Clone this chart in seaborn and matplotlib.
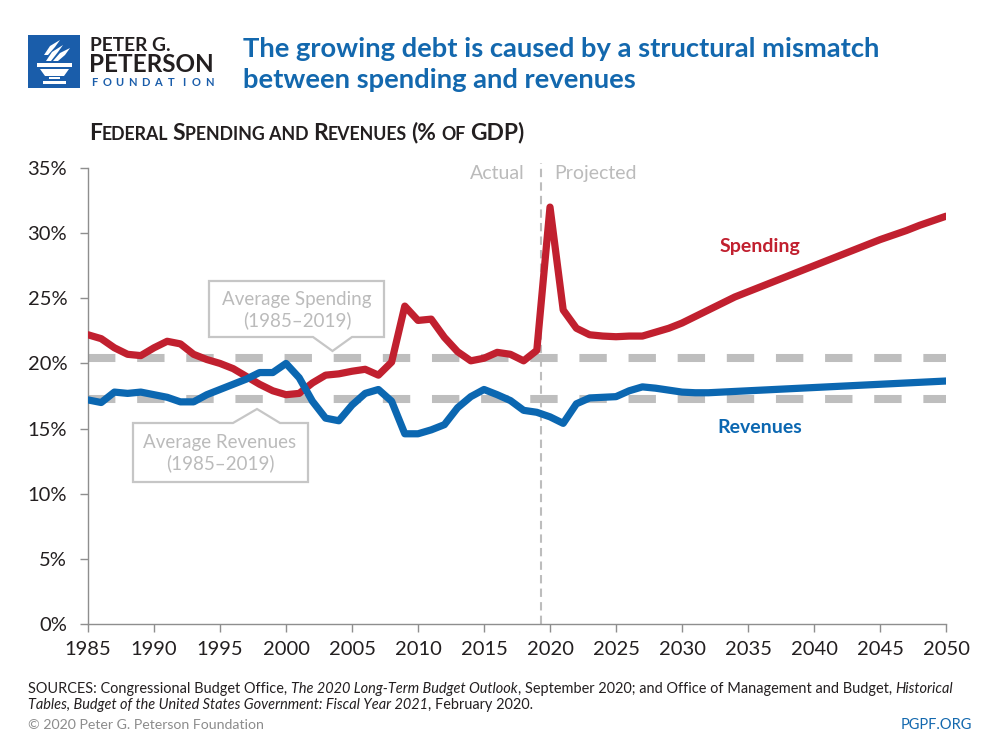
import numpy as np
import pandas as pd
import matplotlib
matplotlib.use("Agg")
import matplotlib.pyplot as plt
import matplotlib.font_manager as fm
from matplotlib.patches import Polygon, Rectangle
from matplotlib.transforms import IdentityTransform
import seaborn as sns

# ---------------- data ----------------
years = list(range(1985, 2051))
spending = [22.2, 21.9, 21.2, 20.7, 20.6, 21.2, 21.7, 21.5, 20.7, 20.3,
            20.0, 19.6, 19.0, 18.4, 17.9, 17.6, 17.7, 18.5, 19.1, 19.2,
            19.4, 19.55, 19.1, 20.1, 24.4, 23.3, 23.4, 22.0, 20.9, 20.2,
            20.4, 20.85, 20.7, 20.2, 21.0, 32.0, 24.1, 22.7, 22.2, 22.1,
            22.05, 22.1, 22.1, 22.4, 22.7, 23.1, 23.6, 24.1, 24.6, 25.1,
            25.5, 25.9, 26.3, 26.7, 27.1, 27.5, 27.9, 28.3, 28.7, 29.1,
            29.5, 29.85, 30.2, 30.6, 30.95, 31.3]
revenues = [17.2, 17.0, 17.8, 17.7, 17.8, 17.6, 17.4, 17.05, 17.05, 17.6,
            18.0, 18.4, 18.8, 19.3, 19.3, 20.0, 18.9, 17.1, 15.8, 15.6,
            16.8, 17.7, 18.0, 17.1, 14.6, 14.6, 14.9, 15.3, 16.6, 17.45,
            18.0, 17.6, 17.15, 16.4, 16.25, 15.9, 15.4, 16.9, 17.35, 17.4,
            17.45, 17.9, 18.2, 18.1, 17.95, 17.8, 17.75, 17.75, 17.8, 17.85,
            17.9, 17.95, 18.0, 18.05, 18.1, 18.15, 18.2, 18.25, 18.3, 18.35,
            18.4, 18.45, 18.5, 18.55, 18.6, 18.65]
avg_spending = 20.4
avg_revenues = 17.3
split_year = 2019.3
xticks = list(range(1985, 2051, 5))
yticks = [0, 5, 10, 15, 20, 25, 30, 35]

df = pd.DataFrame({"year": years, "Spending": spending, "Revenues": revenues})

# ---------------- style ----------------
RED = "#C1202F"
BLUE = "#0B67B1"
TITLE_BLUE = "#1368AE"
GRAY_DASH = "#BEBEBE"
BOX_GRAY = "#C6C6C6"
TXT_GRAY = "#BBBBBB"
DARK = "#231F20"

sns.set_style("ticks")
installed = {f.name for f in fm.fontManager.ttflist}
MAIN = "Lato" if "Lato" in installed else "DejaVu Sans"
NARROW = "Liberation Sans Narrow" if "Liberation Sans Narrow" in installed else MAIN
plt.rcParams["font.family"] = [MAIN, "DejaVu Sans"]

W, H = 1000, 750
fig = plt.figure(figsize=(10, 7.5), dpi=100)
fig.patch.set_facecolor("white")

# axes placement (pixels): x 88..946, y 168..624
ax = fig.add_axes([88 / W, 1 - 624 / H, (946 - 88) / W, (624 - 168) / H])
ax.set_xlim(1985, 2050)
ax.set_ylim(0, 35)

# average dashed lines (under data)
ax.plot([1985, 2050], [avg_spending] * 2, color=GRAY_DASH, lw=5.8,
        linestyle=(0, (3.4, 2.7)), solid_capstyle="butt", zorder=1)
ax.plot([1985, 2050], [avg_revenues] * 2, color=GRAY_DASH, lw=5.8,
        linestyle=(0, (3.4, 2.7)), solid_capstyle="butt", zorder=1)

# actual / projected divider
ax.plot([split_year, split_year], [0, 35.4], color="#BDBDBD", lw=1.5,
        linestyle=(0, (4, 2.5)), clip_on=False, zorder=1)
ax.text(split_year - 1.2, 34.6, "Actual", ha="right", va="center",
        fontsize=14, color=TXT_GRAY)
ax.text(split_year + 1.0, 34.6, "Projected", ha="left", va="center",
        fontsize=14, color=TXT_GRAY)

sns.lineplot(data=df, x="year", y="Spending", color=RED, lw=5.2, ax=ax,
             zorder=3)
sns.lineplot(data=df, x="year", y="Revenues", color=BLUE, lw=5.2, ax=ax,
             zorder=3)
for ln in ax.lines[-2:]:
    ln.set_solid_joinstyle("round")
    ln.set_solid_capstyle("round")

ax.text(2035.9, 29.0, "Spending", color=RED, fontsize=14,
        fontweight="bold", ha="center", va="center")
ax.text(2035.9, 15.05, "Revenues", color=BLUE, fontsize=14,
        fontweight="bold", ha="center", va="center")

# callout boxes
def px2d(px, py):
    return 1985 + (px - 88) / (858 / 65), (624 - py) / (456 / 35)

L, T = px2d(209, 281)
R, B = px2d(384, 337)
p1, _ = px2d(313, 0)
p2, _ = px2d(352, 0)
tx, ty = px2d(332.5, 351)
box1 = Polygon([(L, T), (R, T), (R, B), (p2, B), (tx, ty), (p1, B), (L, B)],
               closed=True, fc="white", ec=BOX_GRAY, lw=1.6, zorder=4,
               clip_on=False)
ax.add_patch(box1)
cx, cy = px2d(297, 310)
ax.text(cx, cy, "Average Spending\n(1985\u20132019)", ha="center", va="center",
        fontsize=13.5, color=TXT_GRAY, linespacing=1.2, zorder=5)

L, T = px2d(133, 423)
R, B = px2d(308, 482)
p1, _ = px2d(233, 0)
p2, _ = px2d(280, 0)
tx, ty = px2d(257, 409)
box2 = Polygon([(L, T), (p1, T), (tx, ty), (p2, T), (R, T), (R, B), (L, B)],
               closed=True, fc="white", ec=BOX_GRAY, lw=1.6, zorder=4,
               clip_on=False)
ax.add_patch(box2)
cx, cy = px2d(220, 453)
ax.text(cx, cy, "Average Revenues\n(1985\u20132019)", ha="center", va="center",
        fontsize=13.5, color=TXT_GRAY, linespacing=1.2, zorder=5)

# axes styling
ax.set_xticks(xticks)
ax.set_yticks(yticks)
ax.set_yticklabels([f"{v}%" for v in yticks])
ax.set_xlabel("")
ax.set_ylabel("")
for side in ["top", "right"]:
    ax.spines[side].set_visible(False)
for side in ["left", "bottom"]:
    ax.spines[side].set_color("#8E8E8E")
    ax.spines[side].set_linewidth(1.0)
ax.tick_params(axis="both", colors="#8E8E8E", length=6, width=1.0,
               labelsize=14.5, labelcolor=DARK)
ax.tick_params(axis="y", pad=9)
ax.tick_params(axis="x", pad=6)

# ---------------- header / footer ----------------
fig.canvas.draw()
renderer = fig.canvas.get_renderer()
ID = IdentityTransform()


def space_w(**kw):
    a = fig.text(0, 0, "a a", transform=ID, **kw)
    b = fig.text(0, 0, "aa", transform=ID, **kw)
    w = a.get_window_extent(renderer).width - b.get_window_extent(renderer).width
    a.remove()
    b.remove()
    return w


def draw_runs(x, y, parts):
    """parts: list of (text, kwargs); y = baseline in px from top."""
    for text, kw in parts:
        sw = space_w(**kw)
        lead = len(text) - len(text.lstrip(" "))
        trail = len(text) - len(text.rstrip(" "))
        x += lead * sw
        s = text.strip(" ")
        if s:
            t = fig.text(x, H - y, s, transform=ID, ha="left", va="baseline", **kw)
            x = t.get_window_extent(renderer).x1
        x += trail * sw
    return x


# title
fig.text(243, H - 57, "The growing debt is caused by a structural mismatch",
         transform=ID, fontsize=19.7, fontweight="bold", color=TITLE_BLUE,
         va="baseline", ha="left")
fig.text(243, H - 88.5, "between spending and revenues",
         transform=ID, fontsize=19.7, fontweight="bold", color=TITLE_BLUE,
         va="baseline", ha="left")

# small-caps subtitle
big = dict(fontsize=16.4, fontweight="bold", color=DARK)
small = dict(fontsize=12.8, fontweight="bold", color=DARK)
draw_runs(89, 139.5, [("F", big), ("EDERAL ", small), ("S", big),
                      ("PENDING AND ", small), ("R", big), ("EVENUES ", small),
                      ("(% ", big), ("OF ", small), ("GDP)", big)])

# logo
fig.add_artist(Rectangle((28, H - 88), 52, 53, transform=ID, fc="#1A5DAA",
                         ec="none"))
def P(pts):
    return [(x, H - y) for x, y in pts]
for pts in [
    [(37, 63), (72, 63), (72, 67), (37, 67)],
    [(40, 69), (69, 69), (64, 76), (45, 76)],
    [(49, 77), (60, 77), (60, 79), (49, 79)],
    [(43, 81), (66, 81), (66, 84), (43, 84)],
    [(46, 61), (52, 52), (63, 45), (58, 52), (51, 61)],
    [(53, 61), (60, 53), (70, 48), (65, 55), (58, 61)],
    [(44, 55), (50, 46), (60, 40), (55, 47), (48, 55)],
]:
    fig.add_artist(Polygon(P(pts), closed=True, transform=ID, fc="white",
                           ec="none"))
fig.text(90, H - 51, "PETER G.", transform=ID, fontsize=13.8,
         fontweight="bold", color=DARK, va="baseline", ha="left")
fig.text(89, H - 72, "PETERSON", transform=ID, fontsize=17.5,
         fontweight="bold", color=DARK, va="baseline", ha="left")
for i, ch in enumerate("FOUNDATION"):
    fig.text(94 + i * 12.8, H - 86.5, ch, transform=ID, fontsize=8,
             color="#1A5DAA", va="baseline", ha="center", fontweight="bold")

# footer
fn = dict(fontsize=10.45, color=DARK, family=[NARROW, "DejaVu Sans"])
fi = dict(fontsize=10.45, color=DARK, family=[NARROW, "DejaVu Sans"], style="italic")
draw_runs(28, 693, [("SOURCES: Congressional Budget Office, ", fn),
                    ("The 2020 Long-Term Budget Outlook", fi),
                    (", September 2020; and Office of Management and Budget, ", fn),
                    ("Historical", fi)])
draw_runs(28, 709, [("Tables, Budget of the United States Government: Fiscal Year 2021", fi),
                    (", February 2020.", fn)])
fig.text(28, H - 729, "\u00a9 2020 Peter G. Peterson Foundation", transform=ID,
         fontsize=10.2, color="#8C8C8C", family=[NARROW, "DejaVu Sans"],
         va="baseline", ha="left")
fig.text(972, H - 729, "PGPF.ORG", transform=ID, fontsize=10.5,
         color=TITLE_BLUE, family=[NARROW, "DejaVu Sans"],
         va="baseline", ha="right")

fig.savefig("out.png", dpi=100, facecolor="white")
